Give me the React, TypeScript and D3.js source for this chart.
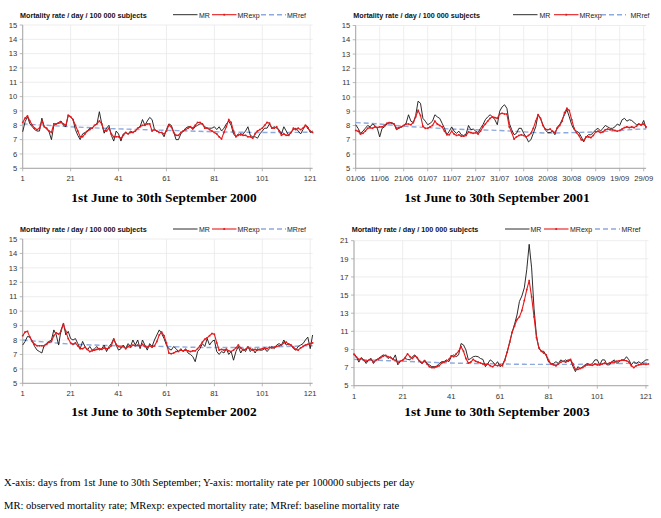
import React from "react";
import * as d3 from "d3";

const days = d3.range(1, 123);
const refDays = [1, 11, 21, 31, 41, 51, 61, 71, 81, 91, 101, 111, 121, 122];
const numTickDays = [1, 21, 41, 61, 81, 101, 121];
const numTickLabels = ["1", "21", "41", "61", "81", "101", "121"];
const dateTickDays = [1, 11, 21, 31, 41, 51, 61, 71, 81, 91, 101, 111, 121];
const dateTickLabels = ["01/06", "11/06", "21/06", "01/07", "11/07", "21/07", "31/07", "10/08", "20/08", "30/08", "09/09", "19/09", "29/09"];
const yTicksSmall = [5, 6, 7, 8, 9, 10, 11, 12, 13, 14, 15];
const yTicksLarge = [5, 7, 9, 11, 13, 15, 17, 19, 21];

const seriesNames = ["MR", "MRexp", "MRref"];
const panelTitle = "Mortality rate / day / 100 000 subjects";
const captions = [
  "1st June to 30th September 2000",
  "1st June to 30th September 2001",
  "1st June to 30th September 2002",
  "1st June to 30th September 2003",
];
const footnotes = [
  "X-axis: days from 1st June to 30th September; Y-axis: mortality rate per 100000 subjects per day",
  "MR: observed mortality rate; MRexp: expected mortality rate; MRref: baseline mortality rate",
];

const mr2000 = [
  7.55, 8.25, 8.6, 8.1, 7.9, 7.7, 7.6, 7.6, 8.5, 7.9,
  7.75, 7.55, 7.0, 8.0, 8.1, 8.2, 8.3, 8.0, 7.9, 8.7,
  8.6, 8.4, 7.7, 7.3, 7.0, 7.4, 7.5, 7.6, 7.8, 7.8,
  8.0, 8.1, 8.95, 8.1, 7.45, 7.8, 8.0, 7.3, 6.9, 7.6,
  7.4, 6.9, 7.4, 7.5, 7.4, 7.6, 7.5, 7.6, 7.8, 7.9,
  8.4, 8.0, 8.3, 8.55, 8.4, 7.7, 7.6, 7.5, 7.5, 7.2,
  7.7, 8.1, 8.0, 7.55, 7.0, 7.0, 7.4, 7.6, 7.8, 7.9,
  7.9, 7.7, 7.9, 8.0, 8.1, 8.1, 7.9, 7.8, 7.8, 7.8,
  7.9, 7.7, 7.9, 7.6, 7.8, 8.1, 8.3, 8.0, 7.4, 7.2,
  7.4, 7.3, 7.4, 7.6, 7.9, 7.3, 7.2, 7.2, 7.1, 7.4,
  7.6, 7.8, 7.8, 8.1, 7.8, 7.9, 7.8, 7.7, 7.4, 7.9,
  7.6, 7.3, 7.5, 7.7, 7.8, 7.6, 7.4, 7.7, 8.0, 7.9,
  7.5, 7.6,
];
const exp2000 = [
  8.2, 8.5, 8.65, 8.3, 8.0, 7.8, 7.7, 7.8, 8.3, 7.9,
  7.8, 7.6, 7.5, 8.1, 8.1, 8.15, 8.2, 8.1, 8.0, 8.7,
  8.6, 8.4, 8.0, 7.6, 7.2, 7.2, 7.4, 7.6, 7.7, 7.8,
  8.0, 8.1, 8.3, 8.1, 7.6, 7.6, 7.8, 7.4, 7.2, 7.2,
  7.2, 7.1, 7.3, 7.5, 7.4, 7.5, 7.5, 7.6, 7.8, 7.9,
  8.0, 8.0, 8.1, 8.1, 7.6, 7.7, 7.6, 7.5, 7.5, 7.4,
  7.6, 8.0, 7.9, 7.5, 7.3, 7.3, 7.5, 7.6, 7.7, 7.8,
  7.9, 7.8, 8.0, 8.2, 8.2, 8.1, 7.8, 7.8, 7.7, 7.6,
  7.5, 7.4, 7.2, 7.05, 7.5, 7.9, 8.4, 8.2, 7.6, 7.2,
  7.3, 7.4, 7.3, 7.3, 7.2, 7.2, 7.1, 7.4, 7.6, 7.7,
  7.8, 8.0, 8.2, 8.15, 7.8, 7.8, 7.9, 7.6, 7.3, 7.4,
  7.3, 7.3, 7.5, 7.8, 7.7, 7.8, 7.7, 7.8, 8.0, 7.8,
  7.6, 7.5,
];
const ref2000 = [8.1, 8.0, 7.9, 7.82, 7.75, 7.7, 7.65, 7.6, 7.55, 7.52, 7.5, 7.5, 7.52, 7.52];

const mr2001 = [
  8.05, 7.8, 7.45, 7.6, 7.8, 8.0, 7.9, 8.1, 8.0, 7.8,
  7.2, 7.8, 7.9, 8.1, 8.2, 8.2, 8.1, 7.7, 7.8, 7.9,
  8.0, 8.15, 8.75, 8.3, 8.2, 8.7, 9.7, 9.55, 8.5, 8.3,
  8.05, 8.15, 8.3, 8.75, 8.6, 8.5, 8.15, 7.8, 7.35, 7.6,
  7.9, 7.6, 7.45, 7.6, 7.35, 7.3, 7.4, 8.0, 7.7, 7.75,
  7.6, 7.5, 7.8, 8.05, 8.4, 8.6, 8.75, 8.6, 8.4, 8.05,
  9.0, 9.3, 9.45, 9.2, 8.15, 7.7, 7.35, 7.45, 7.8, 7.8,
  7.45, 7.2, 6.85, 7.0, 7.45, 7.9, 8.75, 8.5, 8.05, 7.7,
  7.5, 7.5, 7.6, 7.35, 7.9, 8.05, 8.4, 8.75, 9.1, 8.6,
  8.05, 7.7, 7.6, 7.5, 7.2, 6.85, 7.2, 7.35, 7.35, 7.5,
  7.7, 7.8, 7.6, 7.8, 8.0, 7.9, 7.8, 7.8, 7.9, 8.1,
  8.0, 8.4, 8.5, 8.3, 8.4, 8.35, 8.2, 8.05, 8.1, 8.0,
  8.35, 7.8,
];
const exp2001 = [
  7.65, 7.6, 7.4, 7.45, 7.6, 7.8, 7.85, 7.8, 7.9, 7.85,
  7.9, 7.9, 8.0, 8.15, 8.2, 8.15, 8.1, 7.8, 7.85, 7.9,
  8.0, 8.1, 8.1, 8.05, 8.2, 8.6, 9.05, 8.7, 7.95, 7.8,
  7.8, 7.9, 8.0, 8.3, 8.1, 8.0, 7.9, 7.6, 7.35, 7.35,
  7.6, 7.4, 7.3, 7.35, 7.25, 7.25, 7.3, 7.55, 7.5, 7.45,
  7.5, 7.4, 7.6, 7.9, 8.1, 8.3, 8.5, 8.6, 8.55, 8.5,
  8.8, 8.85, 8.8, 8.8, 7.9, 7.5, 7.05, 7.2, 7.3, 7.35,
  7.3, 7.2, 7.3, 7.45, 7.8, 8.3, 8.75, 8.5, 8.0, 7.75,
  7.7, 7.75, 7.6, 7.5, 7.8, 8.0, 8.3, 8.9, 9.2, 9.05,
  8.4, 7.8, 7.5, 7.3, 7.0, 6.95, 7.2, 7.2, 7.15, 7.3,
  7.55, 7.6, 7.5, 7.55, 7.7, 7.75, 7.7, 7.7, 7.65, 7.6,
  7.65, 7.75, 7.85, 7.9, 7.85, 7.9, 7.85, 7.95, 8.1, 8.05,
  8.1, 7.9,
];
const ref2001 = [8.2, 8.1, 7.95, 7.85, 7.75, 7.7, 7.65, 7.55, 7.47, 7.5, 7.55, 7.65, 7.75, 7.75];

const mr2002 = [
  7.65, 7.9, 8.25, 8.2, 7.9, 7.55, 7.3, 7.2, 7.1, 7.65,
  7.75, 7.9, 8.0, 8.7, 8.35, 7.65, 8.7, 9.15, 8.35, 8.6,
  8.1, 8.0, 8.1, 7.75, 7.4, 7.9, 7.55, 7.3, 7.55, 7.3,
  7.4, 7.55, 7.3, 7.4, 7.65, 7.2, 7.55, 7.75, 8.1, 7.65,
  7.3, 7.4, 7.65, 7.4, 7.75, 7.55, 8.0, 7.65, 8.0, 7.4,
  8.0, 7.65, 7.3, 7.75, 7.55, 8.0, 8.35, 8.7, 8.45, 8.1,
  7.65, 7.4, 7.3, 7.55, 7.4, 7.2, 7.4, 7.2, 7.4, 7.1,
  7.0, 6.85, 6.5, 7.2, 7.4, 7.75, 7.55, 8.1, 7.65, 7.9,
  8.0, 7.2, 7.0, 7.2, 7.1, 7.4, 7.0, 7.2, 6.6, 7.2,
  7.55, 7.1, 7.4, 7.2, 7.55, 7.2, 7.4, 7.1, 7.4, 7.3,
  7.3, 7.4, 7.2, 7.4, 7.55, 7.4, 7.65, 7.75, 7.65, 8.0,
  7.65, 7.75, 7.65, 7.4, 7.3, 7.55, 7.65, 7.75, 8.0, 8.2,
  7.4, 8.35,
];
const exp2002 = [
  8.3, 8.55, 8.6, 8.2, 7.9, 7.7, 7.6, 7.6, 7.6, 7.6,
  7.7, 7.85, 7.9, 8.3, 8.5, 8.4, 8.6, 9.1, 8.6, 8.1,
  7.8, 7.7, 7.8, 7.6, 7.4, 7.4, 7.5, 7.35, 7.2, 7.25,
  7.3, 7.35, 7.4, 7.35, 7.45, 7.4, 7.45, 7.6, 8.05, 7.7,
  7.55, 7.5, 7.55, 7.4, 7.55, 7.5, 7.65, 7.6, 7.65, 7.55,
  7.7, 7.55, 7.5, 7.6, 7.5, 7.6, 7.9, 8.35, 8.55, 8.3,
  7.8, 7.1, 7.05, 7.1, 7.2, 7.2, 7.3, 7.25, 7.3, 7.25,
  7.2, 7.25, 7.25, 7.4, 7.6, 7.85, 8.05, 8.15, 8.3, 8.45,
  8.4, 7.8, 7.3, 7.35, 7.3, 7.35, 7.25, 7.2, 7.3, 7.45,
  7.65, 7.45, 7.3, 7.35, 7.5, 7.4, 7.3, 7.35, 7.3, 7.35,
  7.4, 7.45, 7.4, 7.5, 7.45, 7.5, 7.55, 7.6, 7.65, 7.8,
  7.85, 7.7, 7.65, 7.5, 7.35, 7.3, 7.45, 7.55, 7.65, 7.7,
  7.75, 7.8,
];
const ref2002 = [8.0, 7.85, 7.72, 7.65, 7.6, 7.57, 7.55, 7.5, 7.48, 7.48, 7.5, 7.55, 7.6, 7.6];

const mr2003 = [
  8.55, 8.2, 7.6, 8.1, 7.85, 7.45, 7.85, 8.0, 7.45, 7.85,
  8.0, 8.2, 8.4, 8.3, 8.0, 8.2, 7.9, 8.4, 7.3, 7.65,
  7.85, 8.0, 7.9, 7.85, 8.2, 8.4, 8.0, 7.65, 7.45, 7.85,
  7.45, 7.3, 7.1, 7.1, 7.15, 7.45, 7.65, 7.65, 7.85, 7.65,
  8.2, 8.4, 8.2, 8.4, 9.65, 9.5, 8.95, 7.85, 8.0, 8.2,
  8.25, 8.2, 8.0, 7.9, 7.1, 7.45, 7.85, 7.65, 7.3, 7.65,
  7.1, 7.3, 7.9, 8.8, 9.8, 10.9, 11.8, 12.8, 14.3, 14.9,
  15.8, 17.8, 20.6, 18.0, 13.5, 10.5, 9.1, 8.8, 8.8, 8.3,
  7.6, 7.4, 7.45, 7.65, 7.45, 7.85, 7.65, 7.85, 7.65, 7.85,
  7.1, 6.55, 7.1, 6.9, 7.1, 7.3, 7.45, 7.3, 7.45, 7.85,
  7.85, 7.3, 7.85, 7.85, 7.3, 7.3, 7.65, 7.85, 7.45, 7.65,
  7.85, 7.85, 8.2, 7.85, 7.3, 7.65, 7.45, 7.65, 7.45, 7.65,
  7.85, 7.85,
];
const exp2003 = [
  8.45, 8.15, 7.9, 8.0, 7.8, 7.7, 7.8, 7.9, 7.6, 7.8,
  7.9, 8.1, 8.25, 8.35, 8.2, 8.1, 7.9, 7.8, 7.55, 7.7,
  7.8, 8.1, 8.5, 8.2, 8.0, 8.3, 8.1, 7.7, 7.5, 7.7,
  7.4, 7.1, 7.0, 7.0, 7.1, 7.2, 7.5, 7.6, 7.7, 7.9,
  8.3, 8.2, 8.5, 8.8, 9.3, 8.8, 8.0, 7.5, 7.6, 7.9,
  7.7, 7.6, 7.5, 7.4, 7.3, 7.4, 7.2, 7.1, 7.3, 7.2,
  7.3, 7.2, 7.8, 8.7, 9.8, 10.9, 11.6, 12.3, 12.6, 13.3,
  14.4, 15.6, 16.6, 14.8, 12.6, 10.3, 9.2, 8.8, 8.6, 8.4,
  7.8, 7.4, 7.3, 7.2, 7.4, 7.6, 7.7, 7.6, 7.8, 7.9,
  7.4, 6.8, 6.8, 6.9, 7.0, 7.2, 7.3, 7.3, 7.25, 7.4,
  7.3, 7.3, 7.4, 7.5, 7.4, 7.5, 7.6, 7.6, 7.7, 7.75,
  7.8, 7.8, 7.75, 7.6, 7.2, 7.0, 7.2, 7.3, 7.35, 7.4,
  7.35, 7.4,
];
const ref2003 = [7.9, 7.8, 7.7, 7.6, 7.5, 7.45, 7.4, 7.36, 7.35, 7.35, 7.4, 7.45, 7.5, 7.5];

type PanelCfg = {
  x0: number; x1: number; yTop: number; yBot: number;
  yMax: number; yTicks: number[];
  tickDays: number[]; tickLabels: string[];
  titleX: number; titleY: number;
  legLines: number[]; legTexts: number[];
  capX: number; capY: number; caption: string;
  mr: number[]; exp: number[]; ref: number[];
};

const panels: PanelCfg[] = [
  { x0: 22.7, x1: 312.6, yTop: 25, yBot: 168.3, yMax: 15, yTicks: yTicksSmall,
    tickDays: numTickDays, tickLabels: numTickLabels, titleX: 20, titleY: 17.5,
    legLines: [173, 212, 261], legTexts: [199, 237.5, 287], capX: 164, capY: 201.5,
    caption: captions[0], mr: mr2000, exp: exp2000, ref: ref2000 },
  { x0: 355.7, x1: 646.1, yTop: 25.5, yBot: 168.3, yMax: 15, yTicks: yTicksSmall,
    tickDays: dateTickDays, tickLabels: dateTickLabels, titleX: 353.3, titleY: 17.5,
    legLines: [513, 554, 601], legTexts: [539.5, 579.5, 630.5], capX: 497, capY: 201.5,
    caption: captions[1], mr: mr2001, exp: exp2001, ref: ref2001 },
  { x0: 22.7, x1: 312.6, yTop: 239, yBot: 383.3, yMax: 15, yTicks: yTicksSmall,
    tickDays: numTickDays, tickLabels: numTickLabels, titleX: 20, titleY: 231.8,
    legLines: [173, 212, 261], legTexts: [199, 237.5, 287], capX: 164, capY: 416,
    caption: captions[2], mr: mr2002, exp: exp2002, ref: ref2002 },
  { x0: 354, x1: 648.4, yTop: 240.7, yBot: 385.7, yMax: 21, yTicks: yTicksLarge,
    tickDays: numTickDays, tickLabels: numTickLabels, titleX: 351.7, titleY: 231.8,
    legLines: [505, 544, 595], legTexts: [530.5, 570, 621.5], capX: 497, capY: 416,
    caption: captions[3], mr: mr2003, exp: exp2003, ref: ref2003 },
];

const RED = "#e3191c";
const BLUE = "#8ea9dc";
const AXIS = "#a6a6a6";
const GRID = "#e8e8e8";
const SANS = "'Liberation Sans', Arial, sans-serif";
const SERIF = "'Liberation Serif', 'Times New Roman', serif";

function Panel({ c }: { c: PanelCfg }) {
  const x = d3.scaleLinear().domain([1, 122]).range([c.x0, c.x1]);
  const y = d3.scaleLinear().domain([5, c.yMax]).range([c.yBot, c.yTop]);
  const line = d3.line<number>().x((_, i) => x(days[i])).y((v) => y(v));
  const refLine = d3.line<number>().x((_, i) => x(refDays[i])).y((v) => y(v)).curve(d3.curveMonotoneX);
  const ly = c.titleY - 2.8;
  return (
    <g>
      {c.yTicks.map((t) => (
        <line key={"gy" + t} x1={c.x0} x2={c.x1} y1={y(t)} y2={y(t)} stroke={GRID} strokeWidth={0.8} />
      ))}
      {c.tickDays.map((d) => (
        <line key={"gx" + d} x1={x(d)} x2={x(d)} y1={c.yTop} y2={c.yBot} stroke={GRID} strokeWidth={0.8} />
      ))}
      <line x1={c.x0} x2={c.x0} y1={c.yTop} y2={c.yBot} stroke={AXIS} strokeWidth={1} />
      <line x1={c.x0} x2={c.x1} y1={c.yBot} y2={c.yBot} stroke={AXIS} strokeWidth={1} />
      {c.yTicks.map((t) => (
        <g key={"yt" + t}>
          <line x1={c.x0 - 3} x2={c.x0} y1={y(t)} y2={y(t)} stroke={AXIS} strokeWidth={0.8} />
          <text x={c.x0 - 5.5} y={y(t) + 2.7} textAnchor="end" fontFamily={SANS} fontSize={7.6} fill="#333">{t}</text>
        </g>
      ))}
      {c.tickDays.map((d, i) => (
        <g key={"xt" + d}>
          <line x1={x(d)} x2={x(d)} y1={c.yBot} y2={c.yBot + 3} stroke={AXIS} strokeWidth={0.8} />
          <text x={x(d)} y={c.yBot + 13} textAnchor="middle" fontFamily={SANS} fontSize={7.6} fill="#333">{c.tickLabels[i]}</text>
        </g>
      ))}
      <path d={refLine(c.ref) || ""} fill="none" stroke={BLUE} strokeWidth={1.4} strokeDasharray="5,3" />
      <path d={line(c.mr) || ""} fill="none" stroke="#151515" strokeWidth={0.9} />
      <path d={line(c.exp) || ""} fill="none" stroke={RED} strokeWidth={1.1} />
      {c.exp.map((v, i) => (
        <rect key={"m" + i} x={x(days[i]) - 0.8} y={y(v) - 0.8} width={1.6} height={1.6} fill={RED} />
      ))}
      <text x={c.titleX} y={c.titleY} fontFamily={SANS} fontWeight="bold" fontSize={7.2} fill="#111">{panelTitle}</text>
      <line x1={c.legLines[0]} x2={c.legLines[0] + 24.5} y1={ly} y2={ly} stroke="#151515" strokeWidth={0.9} />
      <line x1={c.legLines[1]} x2={c.legLines[1] + 24.5} y1={ly} y2={ly} stroke={RED} strokeWidth={1.1} />
      <rect x={c.legLines[1] + 12.25 - 0.9} y={ly - 0.9} width={1.8} height={1.8} fill={RED} />
      <line x1={c.legLines[2]} x2={c.legLines[2] + 25} y1={ly} y2={ly} stroke={BLUE} strokeWidth={1.4} strokeDasharray="5,3" />
      {seriesNames.map((n, i) => (
        <text key={n} x={c.legTexts[i]} y={c.titleY} fontFamily={SANS} fontSize={7} fill="#222">{n}</text>
      ))}
      <text x={c.capX} y={c.capY} textAnchor="middle" fontFamily={SERIF} fontWeight="bold" fontSize={13.4} fill="#000">{c.caption}</text>
    </g>
  );
}

export default function App() {
  return (
    <svg width={661} height={518} style={{ position: "absolute", left: 0, top: 0, background: "#fff" }}>
      <rect width={661} height={518} fill="#fff" />
      {panels.map((p, i) => <Panel key={i} c={p} />)}
      <text x={4} y={486} fontFamily={SERIF} fontSize={10.6} fill="#000">{footnotes[0]}</text>
      <text x={4} y={509} fontFamily={SERIF} fontSize={10.6} fill="#000">{footnotes[1]}</text>
    </svg>
  );
}
